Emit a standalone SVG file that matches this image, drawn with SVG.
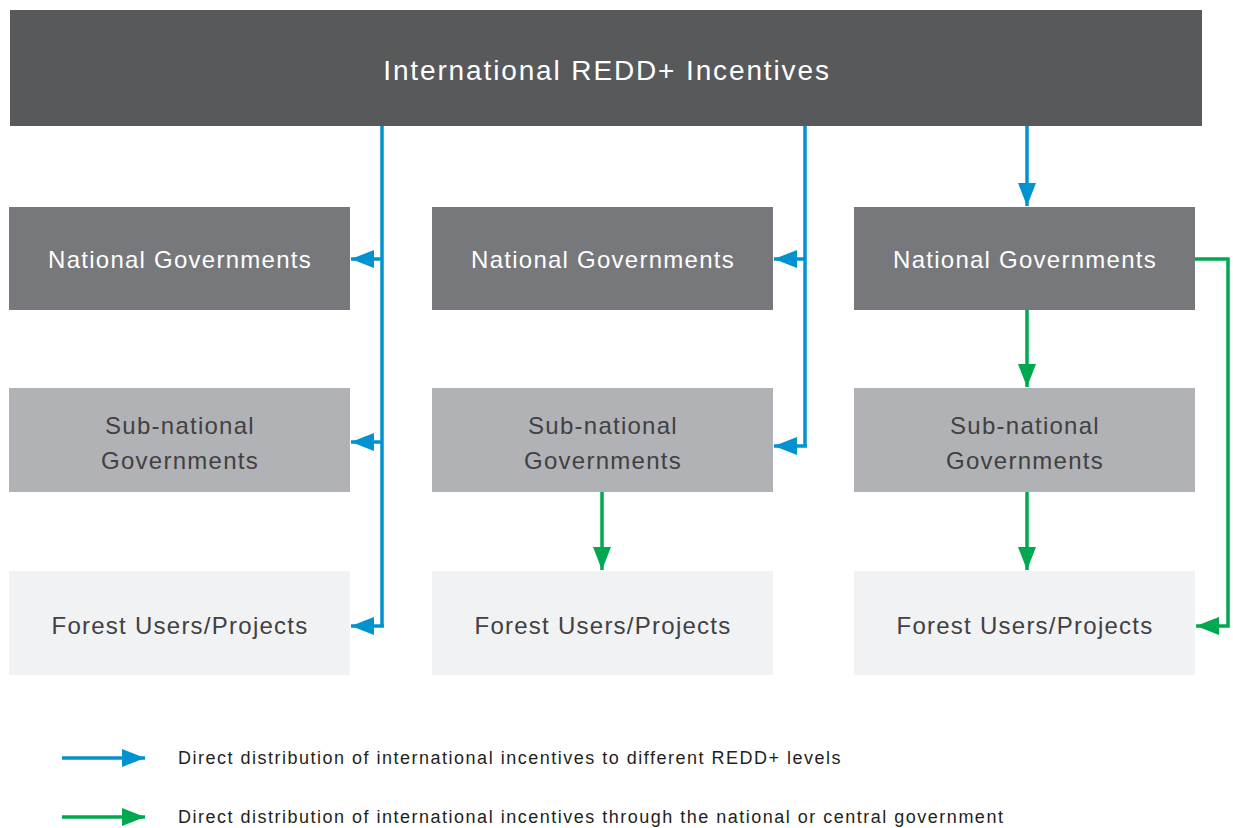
<svg xmlns="http://www.w3.org/2000/svg" width="1233" height="828" viewBox="0 0 1233 828">
<style>
.t{font-family:"Liberation Sans",Arial,sans-serif;text-anchor:middle}
.nat{fill:#77787b}.sub{fill:#b1b2b5}.for{fill:#f1f2f4}
.wt{fill:#ffffff;font-size:24px;letter-spacing:1.25px}.dt{fill:#414042;font-size:24px;letter-spacing:1.25px}
.b{stroke:#0093d0;stroke-width:3.5;fill:none}
.g{stroke:#00a84f;stroke-width:3.5;fill:none}
.leg{font-family:"Liberation Sans",Arial,sans-serif;font-size:18px;letter-spacing:1.5px;fill:#231f20}
</style>
<defs>
<marker id="ab" markerUnits="userSpaceOnUse" markerWidth="24" markerHeight="20" refX="23" refY="9" orient="auto"><path d="M0,0 L23,9 L0,18 Z" fill="#0093d0"/></marker>
<marker id="ag" markerUnits="userSpaceOnUse" markerWidth="24" markerHeight="20" refX="23" refY="9" orient="auto"><path d="M0,0 L23,9 L0,18 Z" fill="#00a84f"/></marker>
</defs>
<g id="top"><rect x="10" y="10" width="1192" height="116" fill="#58595b"/><text class="t" x="607" y="80" fill="#fff" font-size="28" letter-spacing="1.87">International REDD+ Incentives</text></g>
<g id="n1"><rect class="nat" x="9" y="207" width="341" height="103"/><text class="t wt" x="180" y="268">National Governments</text></g>
<g id="n2"><rect class="nat" x="432" y="207" width="341" height="103"/><text class="t wt" x="603" y="268">National Governments</text></g>
<g id="n3"><rect class="nat" x="854" y="207" width="341" height="103"/><text class="t wt" x="1025" y="268">National Governments</text></g>
<g id="s1"><rect class="sub" x="9" y="388" width="341" height="104"/><text class="t dt" x="180" y="434">Sub-national</text><text class="t dt" x="180" y="469">Governments</text></g>
<g id="s2"><rect class="sub" x="432" y="388" width="341" height="104"/><text class="t dt" x="603" y="434">Sub-national</text><text class="t dt" x="603" y="469">Governments</text></g>
<g id="s3"><rect class="sub" x="854" y="388" width="341" height="104"/><text class="t dt" x="1025" y="434">Sub-national</text><text class="t dt" x="1025" y="469">Governments</text></g>
<g id="f1"><rect class="for" x="9" y="571" width="341" height="104"/><text class="t dt" x="180" y="634">Forest Users/Projects</text></g>
<g id="f2"><rect class="for" x="432" y="571" width="341" height="104"/><text class="t dt" x="603" y="634">Forest Users/Projects</text></g>
<g id="f3"><rect class="for" x="854" y="571" width="341" height="104"/><text class="t dt" x="1025" y="634">Forest Users/Projects</text></g>
<g id="connectors">
<path class="b" d="M382,126 V626"/>
<path class="b" d="M382,259 H351" marker-end="url(#ab)"/>
<path class="b" d="M382,442 H351" marker-end="url(#ab)"/>
<path class="b" d="M384,626 H351" marker-end="url(#ab)"/>
<path class="b" d="M805,126 V446"/>
<path class="b" d="M805,259 H774" marker-end="url(#ab)"/>
<path class="b" d="M807,446 H774" marker-end="url(#ab)"/>
<path class="b" d="M1027,126 V206" marker-end="url(#ab)"/>
<path class="g" d="M1027,310 V387" marker-end="url(#ag)"/>
<path class="g" d="M1027,492 V570" marker-end="url(#ag)"/>
<path class="g" d="M602,492 V570" marker-end="url(#ag)"/>
<path class="g" d="M1195,259 H1228 V626 H1196" marker-end="url(#ag)"/>
</g>
<g id="legend">
<path class="b" d="M62,758 H145" marker-end="url(#ab)"/>
<text class="leg" x="178" y="764">Direct distribution of international incentives to different REDD+ levels</text>
<path class="g" d="M62,817 H145" marker-end="url(#ag)"/>
<text class="leg" x="178" y="823">Direct distribution of international incentives through the national or central government</text>
</g>
</svg>
